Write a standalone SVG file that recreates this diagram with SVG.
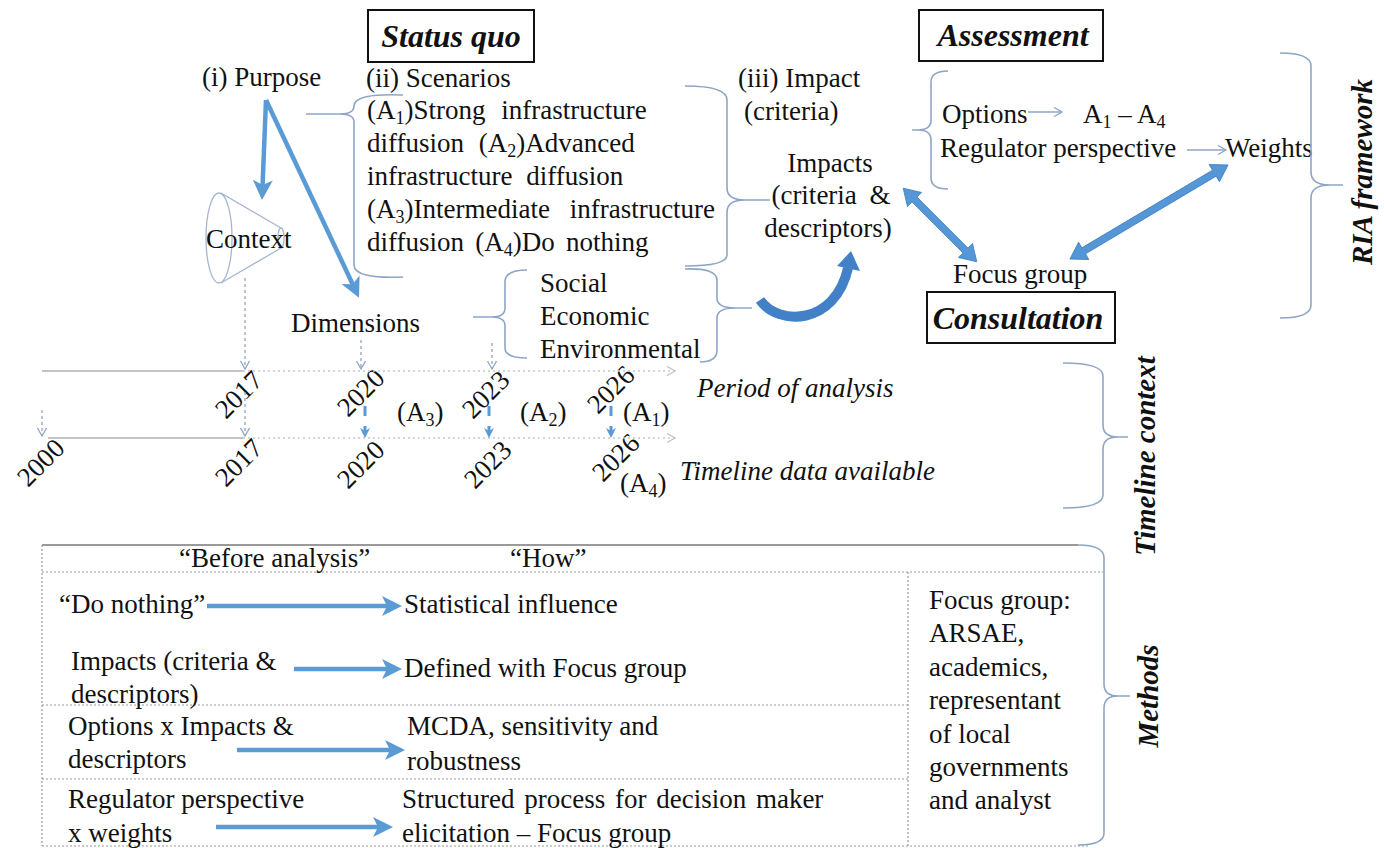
<svg xmlns="http://www.w3.org/2000/svg" width="1384" height="848" viewBox="0 0 1384 848">
  <style>
    text { font-family: 'Liberation Serif', 'Times New Roman', serif; font-size: 27px; fill: #111; }
    .sub { font-size: 18px; }
    .hd { font-weight: bold; font-style: italic; font-size: 32px; }
    .side { font-weight: bold; font-style: italic; font-size: 29px; }
    .it { font-style: italic; }
    .box { fill: #fff; stroke: #111; stroke-width: 2; }
    .brace { fill: none; stroke: #8fa5c6; stroke-width: 1.6; }
    .thin { fill: none; stroke: #8fa5c6; stroke-width: 1.3; }
    .drop { fill: none; stroke: #8e9bb0; stroke-width: 1.2; stroke-dasharray: 3 3; }
    .tl { fill: none; stroke: #c4c4c4; stroke-width: 2.2; }
    .tld { fill: none; stroke: #c3c8d0; stroke-width: 1.6; stroke-dasharray: 2 3; }
    .blue { fill: none; stroke: #5b9bd5; stroke-width: 4.5; }
    .bluedash { fill: none; stroke: #5b9bd5; stroke-width: 3; stroke-dasharray: 10 10; }
    .dbl { fill: #5596d6; stroke: #3f7fc0; stroke-width: 0.8; }
    .grid { fill: none; stroke: #9a9a9a; stroke-width: 1.2; stroke-dasharray: 2 2; }
    .cone { fill: none; stroke: #a7b6cf; stroke-width: 1.3; }
  </style>
  <defs>
    <marker id="hL" markerUnits="userSpaceOnUse" markerWidth="22" markerHeight="22" refX="7" refY="10" orient="auto">
      <path d="M0,0 L20,10 L0,20 L5,10 z" fill="#5b9bd5"/>
    </marker>
    <marker id="hS" markerUnits="userSpaceOnUse" markerWidth="12" markerHeight="12" refX="4" refY="5" orient="auto">
      <path d="M0,0 L10,5 L0,10 L3,5 z" fill="#5b9bd5"/>
    </marker>
    <marker id="vO" markerUnits="userSpaceOnUse" markerWidth="12" markerHeight="12" refX="9" refY="5" orient="auto">
      <path d="M1,0.5 L9,5 L1,9.5" fill="none" stroke="#8fa5c6" stroke-width="1.3"/>
    </marker>
    <marker id="vG" markerUnits="userSpaceOnUse" markerWidth="12" markerHeight="12" refX="9" refY="5" orient="auto">
      <path d="M1,0.5 L9,5 L1,9.5" fill="none" stroke="#bfc4cc" stroke-width="1.4"/>
    </marker>
  </defs>

  <!-- section headings -->
  <g id="status-quo">
    <rect class="box" x="368" y="10" width="166" height="52"/>
    <text class="hd" x="451" y="47" text-anchor="middle">Status quo</text>
  </g>
  <g id="assessment">
    <rect class="box" x="919" y="10" width="184" height="51"/>
    <text class="hd" x="1013" y="46" text-anchor="middle">Assessment</text>
  </g>
  <g id="consultation">
    <rect class="box" x="927" y="292" width="188" height="51"/>
    <text class="hd" x="1018" y="329" text-anchor="middle">Consultation</text>
  </g>

  <!-- status quo nodes -->
  <g id="purpose"><text x="202" y="86">(i) Purpose</text></g>
  <g id="context">
    <ellipse class="cone" cx="219" cy="238" rx="13" ry="45"/>
    <path class="cone" d="M221,193 L281,228 M221,283 L281,248"/>
    <ellipse class="cone" cx="281" cy="238" rx="3" ry="10"/>
    <text x="206" y="248">Context</text>
  </g>
  <g id="dimensions"><text x="291" y="332">Dimensions</text></g>
  <g id="scenarios">
    <text x="366" y="87">(ii) Scenarios</text>
    <text x="367" y="119" word-spacing="9">(A<tspan class="sub" dy="5">1</tspan><tspan dy="-5">)Strong infrastructure</tspan></text>
    <text x="367" y="152" word-spacing="8">diffusion (A<tspan class="sub" dy="5">2</tspan><tspan dy="-5">)Advanced</tspan></text>
    <text x="367" y="185" word-spacing="7">infrastructure diffusion</text>
    <text x="367" y="218" word-spacing="13">(A<tspan class="sub" dy="5">3</tspan><tspan dy="-5">)Intermediate infrastructure</tspan></text>
    <text x="367" y="251" word-spacing="4.5">diffusion (A<tspan class="sub" dy="5">4</tspan><tspan dy="-5">)Do nothing</tspan></text>
  </g>
  <g id="dimension-list">
    <text x="540" y="292">Social</text>
    <text x="540" y="325">Economic</text>
    <text x="540" y="358">Environmental</text>
  </g>
  <g id="impact-criteria">
    <text x="738" y="87">(iii) Impact</text>
    <text x="744" y="120">(criteria)</text>
  </g>
  <g id="impacts">
    <text x="830" y="172" text-anchor="middle">Impacts</text>
    <text x="831" y="204" text-anchor="middle" word-spacing="6">(criteria &amp;</text>
    <text x="828" y="237" text-anchor="middle">descriptors)</text>
  </g>

  <!-- assessment nodes -->
  <g id="options"><text x="942" y="123">Options</text></g>
  <g id="alternatives"><text x="1083" y="123">A<tspan class="sub" dy="5">1</tspan><tspan dy="-5"> – A</tspan><tspan class="sub" dy="5">4</tspan></text></g>
  <g id="regulator"><text x="940" y="157">Regulator perspective</text></g>
  <g id="weights"><text x="1225" y="157">Weights</text></g>
  <g id="focus-group"><text x="953" y="283">Focus group</text></g>

  <!-- timeline -->
  <g id="timeline">
    <text class="it" x="697" y="397">Period of analysis</text>
    <text class="it" x="680" y="480">Timeline data available</text>
    <text transform="translate(226,420) rotate(-45)">2017</text>
    <text transform="translate(348,418) rotate(-45)">2020</text>
    <text transform="translate(473,420) rotate(-45)">2023</text>
    <text transform="translate(598,415) rotate(-45)">2026</text>
    <text transform="translate(28,488) rotate(-45)">2000</text>
    <text transform="translate(226,488) rotate(-45)">2017</text>
    <text transform="translate(348,490) rotate(-45)">2020</text>
    <text transform="translate(475,490) rotate(-45)">2023</text>
    <text transform="translate(603,483) rotate(-45)">2026</text>
    <text x="397" y="421">(A<tspan class="sub" dy="5">3</tspan><tspan dy="-5">)</tspan></text>
    <text x="520" y="421">(A<tspan class="sub" dy="5">2</tspan><tspan dy="-5">)</tspan></text>
    <text x="623" y="421">(A<tspan class="sub" dy="5">1</tspan><tspan dy="-5">)</tspan></text>
    <text x="620" y="492">(A<tspan class="sub" dy="5">4</tspan><tspan dy="-5">)</tspan></text>
  </g>

  <!-- methods table -->
  <g id="methods-table">
    <path d="M42,545 H1078" fill="none" stroke="#9a9a9a" stroke-width="2"/>
    <path class="grid" d="M42,545 V846 M42,572 H1104 M42,705 H908 M42,779 H908 M908,572 V846 M42,846 H1090"/>
    <text x="179" y="567">“Before analysis”</text>
    <text x="510" y="567">“How”</text>
    <text x="59" y="613">“Do nothing”</text>
    <text x="404" y="613">Statistical influence</text>
    <text x="71" y="670">Impacts (criteria &amp;</text>
    <text x="71" y="703">descriptors)</text>
    <text x="404" y="677">Defined with Focus group</text>
    <text x="68" y="735">Options x Impacts &amp;</text>
    <text x="68" y="768">descriptors</text>
    <text x="407" y="735">MCDA, sensitivity and</text>
    <text x="407" y="770">robustness</text>
    <text x="68" y="808">Regulator perspective</text>
    <text x="68" y="842">x weights</text>
    <text x="402" y="808" word-spacing="3">Structured process for decision maker</text>
    <text x="402" y="842">elicitation – Focus group</text>
    <text x="929" y="609">Focus group:</text>
    <text x="929" y="642">ARSAE,</text>
    <text x="929" y="676">academics,</text>
    <text x="929" y="709">representant</text>
    <text x="929" y="743">of local</text>
    <text x="929" y="776">governments</text>
    <text x="929" y="809">and analyst</text>
  </g>

  <!-- framework labels -->
  <g id="labels">
    <text class="side" transform="translate(1372,172) rotate(-90)" text-anchor="middle">RIA framework</text>
    <text class="side" transform="translate(1155,456) rotate(-90)" text-anchor="middle">Timeline context</text>
    <text class="side" transform="translate(1158,696) rotate(-90)" text-anchor="middle">Methods</text>
  </g>

  <!-- connectors: braces, arrows, timeline axes -->
  <g id="connectors">
    <!-- braces -->
    <path class="brace" d="M403,95 Q354,93 354,106 Q354,114 340,114 Q354,114 354,122 L354,265 Q354,279 403,277 M306,114 L340,114"/>
    <path class="brace" d="M685,86 Q727,86 727,100 L727,188 Q727,200 745,200 Q727,200 727,212 L727,255 Q727,266 685,266 M745,200 L770,200"/>
    <path class="brace" d="M527,270 Q505,270 505,282 L505,308 Q505,317 492,317 Q505,317 505,326 L505,348 Q505,358 527,358 M473,317 L492,317"/>
    <path class="brace" d="M685,269 Q717,268 717,280 L717,298 Q717,308 735,308 Q717,308 717,318 L717,350 Q717,362 700,362 M735,308 L752,308"/>
    <path class="brace" d="M948,71 Q931,71 931,82 L931,120 Q931,130 918,130 Q931,130 931,140 L931,178 Q931,189 948,189 M912,130 L918,130"/>
    <path class="brace" d="M1280,53 Q1311,53 1311,66 L1311,172 Q1311,185 1330,185 Q1311,185 1311,198 L1311,305 Q1311,318 1280,318 M1330,185 L1343,185"/>
    <path class="brace" d="M1063,363 Q1103,363 1103,376 L1103,425 Q1103,437 1118,437 Q1103,437 1103,449 L1103,495 Q1103,508 1063,508 M1118,437 L1128,437"/>
    <path class="brace" d="M1078,545 Q1104,545 1104,558 L1104,684 Q1104,696 1118,696 Q1104,696 1104,708 L1104,833 Q1104,845 1078,845 M1118,696 L1130,696"/>

    <!-- purpose arrows -->
    <line class="blue" x1="266" y1="100" x2="262.5" y2="187" marker-end="url(#hL)"/>
    <line class="blue" x1="266" y1="100" x2="353.5" y2="286" marker-end="url(#hL)"/>

    <!-- dimensions feed impacts -->
    <path d="M760,300 C778,326 835,326 848,268" fill="none" stroke="#4281c8" stroke-width="10"/>
    <polygon points="851,251 860,271 837,266" fill="#4281c8"/>

    <!-- consultation links -->
    <polygon class="dbl" transform="translate(940,225) rotate(45)" points="-52,0 -36,-10 -36,-3.5 36,-3.5 36,-10 52,0 36,10 36,3.5 -36,3.5 -36,10"/>
    <polygon class="dbl" transform="translate(1149,212) rotate(149.25)" points="-92,0 -76,-10 -76,-3.5 76,-3.5 76,-10 92,0 76,10 76,3.5 -76,3.5 -76,10"/>

    <!-- assessment arrows -->
    <line class="thin" x1="1028" y1="112" x2="1062" y2="112" marker-end="url(#vO)"/>
    <line class="thin" x1="1187" y1="150" x2="1226" y2="150" marker-end="url(#vO)"/>

    <!-- timeline axes -->
    <line class="tl" x1="42" y1="371" x2="243" y2="371"/>
    <line class="tld" x1="243" y1="371" x2="675" y2="371" marker-end="url(#vG)"/>
    <line class="tl" x1="48" y1="438" x2="243" y2="438"/>
    <line class="tld" x1="243" y1="438" x2="675" y2="438" marker-end="url(#vG)"/>

    <!-- drops to the timeline -->
    <line class="drop" x1="245" y1="278" x2="245" y2="369" marker-end="url(#vO)"/>
    <line class="drop" x1="361" y1="340" x2="361" y2="369" marker-end="url(#vO)"/>
    <line class="drop" x1="492" y1="343" x2="492" y2="369" marker-end="url(#vO)"/>
    <line class="drop" x1="245" y1="392" x2="245" y2="436" marker-end="url(#vO)"/>
    <line class="drop" x1="42" y1="410" x2="42" y2="436" marker-end="url(#vO)"/>

    <!-- scenario years -->
    <line class="bluedash" x1="365" y1="406" x2="365" y2="432" marker-end="url(#hS)"/>
    <line class="bluedash" x1="489" y1="406" x2="489" y2="432" marker-end="url(#hS)"/>
    <line class="bluedash" x1="611" y1="406" x2="611" y2="432" marker-end="url(#hS)"/>

    <!-- table arrows -->
    <line class="blue" x1="207" y1="606" x2="389" y2="606" marker-end="url(#hL)"/>
    <line class="blue" x1="294" y1="669" x2="389" y2="669" marker-end="url(#hL)"/>
    <line class="blue" x1="237" y1="750" x2="392" y2="750" marker-end="url(#hL)"/>
    <line class="blue" x1="216" y1="827" x2="380" y2="827" marker-end="url(#hL)"/>
  </g>
</svg>
